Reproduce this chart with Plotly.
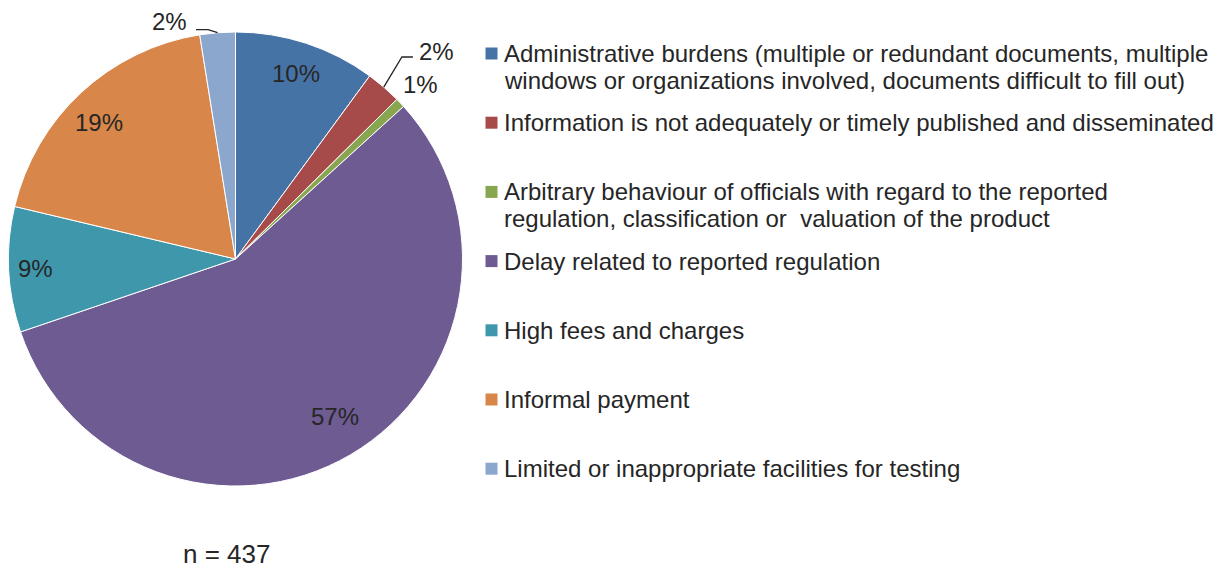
import math
import plotly.graph_objects as go

# ---------------- data ----------------
categories = [
    "Administrative burdens (multiple or redundant documents, multiple<br>windows or organizations involved, documents difficult to fill out)",
    "Information is not adequately or timely published and disseminated",
    "Arbitrary behaviour of officials with regard to the reported<br>regulation, classification or  valuation of the product",
    "Delay related to reported regulation",
    "High fees and charges",
    "Informal payment",
    "Limited or inappropriate facilities for testing",
]
counts = [44, 11, 3, 247, 39, 82, 11]
pct_labels = ["10%", "2%", "1%", "57%", "9%", "19%", "2%"]
n_label = "n = 437"

# ---------------- styles ----------------
colors = ["#4673A6", "#A74A4A", "#88A550", "#6D5B91", "#3F97AC", "#D9864A", "#8BA7CD"]
label_mode = ["in", "leader_right", "out", "in", "in", "in", "leader_left"]
label_rfac = [0.86, 1.153, 1.12, 0.82, 0.88, 0.85, 1.018]
label_aoff = [0, -1.3, 0, -2.0, 0, -2.0, -2.3]     # degrees
leader_h = [0, 11, 0, 0, 0, 0, 12]
leader_gap = [0, 4, 0, 0, 0, 0, 7]
leader_dy = [0, -5, 0, 0, 0, 0, -8]
FONT = "Liberation Sans, Arial, sans-serif"
TXT = "#262626"
PIE_FS = 24
LEG_FS = 24

W, H = 1216, 570
CX, CY, R = 235.5, 259.0, 227.0


def px(x):
    return x / W


def py(y):
    return 1 - y / H


fig = go.Figure()
fig.add_trace(go.Pie(
    labels=categories,
    values=counts,
    sort=False,
    direction="clockwise",
    rotation=0,
    textinfo="none",
    hoverinfo="label+percent",
    marker=dict(colors=colors, line=dict(color="white", width=1)),
    domain=dict(x=[px(CX - R), px(CX + R)], y=[py(CY + R), py(CY - R)]),
    showlegend=False,
))

annotations = []
shapes = []

total = sum(counts)
cum = 0.0
for i, v in enumerate(counts):
    mid = (cum + v / 2) / total * 2 * math.pi + math.radians(label_aoff[i])
    cum += v
    s, c = math.sin(mid), math.cos(mid)
    mode = label_mode[i]
    r = label_rfac[i] * R
    if mode in ("in", "out"):
        annotations.append(dict(
            x=px(CX + r * s), y=py(CY - r * c), xref="paper", yref="paper",
            text=pct_labels[i], showarrow=False,
            font=dict(family=FONT, size=PIE_FS, color=TXT),
            xanchor="center", yanchor="middle",
        ))
    else:
        m0 = mid - math.radians(label_aoff[i])
        ex, ey = CX + R * math.sin(m0), CY - R * math.cos(m0)
        bx, by = CX + r * s, CY - r * c
        sign = 1 if mode == "leader_right" else -1
        hx = bx + sign * leader_h[i]
        shapes.append(dict(
            type="path", xref="paper", yref="paper",
            path=f"M {px(ex)},{py(ey)} L {px(bx)},{py(by)} L {px(hx)},{py(by)}",
            line=dict(color="#262626", width=1.3),
        ))
        annotations.append(dict(
            x=px(hx + sign * leader_gap[i]), y=py(by + leader_dy[i]),
            xref="paper", yref="paper",
            text=pct_labels[i], showarrow=False,
            font=dict(family=FONT, size=PIE_FS, color=TXT),
            xanchor="left" if sign > 0 else "right", yanchor="middle",
        ))

# ---------------- custom legend ----------------
LEG_X = 485.5
LEG_TOP = 53.5
LEG_STEP = 69.2
LEG_LINE = 26.5
SQ = 12
for i, cat in enumerate(categories):
    y1 = LEG_TOP + i * LEG_STEP
    shapes.append(dict(
        type="rect", xref="paper", yref="paper",
        x0=px(LEG_X), x1=px(LEG_X + SQ), y0=py(y1 + SQ / 2), y1=py(y1 - SQ / 2),
        fillcolor=colors[i], line=dict(width=0),
    ))
    for k, line in enumerate(cat.split("<br>")):
        annotations.append(dict(
            x=px(LEG_X + SQ + 4), y=py(y1 + k * LEG_LINE),
            xref="paper", yref="paper", text=line, showarrow=False, align="left",
            font=dict(family=FONT, size=LEG_FS, color=TXT),
            xanchor="left", yanchor="middle",
        ))

annotations.append(dict(
    x=px(226.7), y=0, xref="paper", yref="paper", text=n_label,
    showarrow=False, font=dict(family=FONT, size=26, color=TXT),
    xanchor="center", yanchor="bottom", borderpad=0,
))

fig.update_layout(
    width=W, height=H,
    margin=dict(l=0, r=0, t=0, b=0),
    paper_bgcolor="white", plot_bgcolor="white",
    annotations=annotations, shapes=shapes,
    font=dict(family=FONT, color=TXT),
)

fig.write_html(
    "out.html",
    config={"displayModeBar": False},
    post_script="document.body.style.margin='0';document.body.style.overflow='hidden';",
)
